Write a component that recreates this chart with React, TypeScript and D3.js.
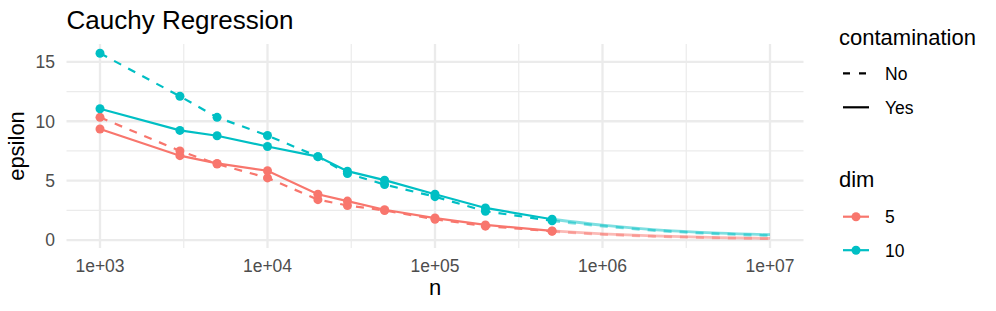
import React from "react";
import * as d3 from "d3";

// ---- data ----
const nValues = [1e3, 3e3, 5e3, 1e4, 2e4, 3e4, 5e4, 1e5, 2e5, 5e5];
const dim5No = [10.33, 7.5, 6.4, 5.23, 3.4, 2.91, 2.49, 1.75, 1.17, 0.74];
const dim5Yes = [9.35, 7.1, 6.45, 5.83, 3.85, 3.28, 2.55, 1.85, 1.27, 0.77];
const dim10No = [15.72, 12.1, 10.33, 8.8, 7.02, 5.6, 4.67, 3.65, 2.42, 1.62];
const dim10Yes = [11.05, 9.23, 8.78, 7.87, 7.02, 5.8, 5.04, 3.85, 2.7, 1.75];

const extN = [5e5, 1e6, 2e6, 5e6, 1e7];
const ext5No = [0.74, 0.48, 0.32, 0.18, 0.11];
const ext5Yes = [0.77, 0.52, 0.35, 0.21, 0.14];
const ext10No = [1.62, 1.18, 0.82, 0.52, 0.38];
const ext10Yes = [1.75, 1.25, 0.88, 0.58, 0.45];

const xTicks = [1e3, 1e4, 1e5, 1e6, 1e7];
const xTickLabels = ["1e+03", "1e+04", "1e+05", "1e+06", "1e+07"];
const yTicks = [0, 5, 10, 15];
const yMinor = [2.5, 7.5, 12.5];
const dims = ["5", "10"];
const contamLevels = ["No", "Yes"];

const COLORS: Record<string, string> = { "5": "#F8766D", "10": "#00BFC4" };
const FONT = "'Liberation Sans', Arial, Helvetica, sans-serif";

const series = [
  { dim: "5", contam: "No", y: dim5No, ext: ext5No },
  { dim: "5", contam: "Yes", y: dim5Yes, ext: ext5Yes },
  { dim: "10", contam: "No", y: dim10No, ext: ext10No },
  { dim: "10", contam: "Yes", y: dim10Yes, ext: ext10Yes },
];

export default function App() {
  const W = 996, H = 311;
  const pl = 66.5, pr = 803.5, pt = 44, pb = 248;

  const x = d3.scaleLog().domain([10 ** 2.8, 10 ** 7.2]).range([pl, pr]);
  const allY = series.flatMap((s) => [...s.y, ...s.ext]);
  const ymin = d3.min(allY)!, ymax = d3.max(allY)!;
  const pad = (ymax - ymin) * 0.05;
  const y = d3.scaleLinear().domain([ymin - pad, ymax + pad]).range([pb, pt]);

  const xMinor = [3.5, 4.5, 5.5, 6.5].map((e) => 10 ** e);

  const line = d3
    .line<[number, number]>()
    .x((d) => x(d[0]))
    .y((d) => y(d[1]));
  const curve = d3
    .line<[number, number]>()
    .x((d) => x(d[0]))
    .y((d) => y(d[1]))
    .curve(d3.curveMonotoneX);

  const DASH = "8,8";
  const LW = 2.2;
  const R = 4.5;

  return (
    <svg
      width={W}
      height={H}
      style={{ position: "absolute", left: 0, top: 0, background: "#fff" }}
      fontFamily={FONT}
    >
      {/* grid */}
      {yMinor.map((v) => (
        <line key={"ym" + v} x1={pl} x2={pr} y1={y(v)} y2={y(v)} stroke="#EBEBEB" strokeWidth={1.2} />
      ))}
      {xMinor.map((v) => (
        <line key={"xm" + v} x1={x(v)} x2={x(v)} y1={pt} y2={pb} stroke="#EBEBEB" strokeWidth={1.2} />
      ))}
      {yTicks.map((v) => (
        <line key={"yM" + v} x1={pl} x2={pr} y1={y(v)} y2={y(v)} stroke="#EBEBEB" strokeWidth={2.3} />
      ))}
      {xTicks.map((v) => (
        <line key={"xM" + v} x1={x(v)} x2={x(v)} y1={pt} y2={pb} stroke="#EBEBEB" strokeWidth={2.3} />
      ))}

      {/* extension (faded) curves */}
      {series.map((s) => (
        <path
          key={"ext" + s.dim + s.contam}
          d={curve(extN.map((n, i) => [n, s.ext[i]] as [number, number])) || ""}
          fill="none"
          stroke={COLORS[s.dim]}
          strokeOpacity={0.5}
          strokeWidth={LW + 0.6}
          strokeDasharray={s.contam === "No" ? DASH : undefined}
        />
      ))}

      {/* main lines */}
      {series.map((s) => (
        <path
          key={"ln" + s.dim + s.contam}
          d={line(nValues.map((n, i) => [n, s.y[i]] as [number, number])) || ""}
          fill="none"
          stroke={COLORS[s.dim]}
          strokeWidth={LW}
          strokeDasharray={s.contam === "No" ? DASH : undefined}
        />
      ))}

      {/* points */}
      {series.map((s) =>
        nValues.map((n, i) => (
          <circle key={"pt" + s.dim + s.contam + i} cx={x(n)} cy={y(s.y[i])} r={R} fill={COLORS[s.dim]} />
        ))
      )}

      {/* y tick labels */}
      {yTicks.map((v) => (
        <text key={"yl" + v} x={55} y={y(v)} dy="0.36em" textAnchor="end" fontSize={17.5} fill="#4D4D4D">
          {v}
        </text>
      ))}
      {/* x tick labels */}
      {xTicks.map((v, i) => (
        <text key={"xl" + v} x={x(v)} y={271.5} textAnchor="middle" fontSize={17.5} fill="#4D4D4D">
          {xTickLabels[i]}
        </text>
      ))}

      {/* axis titles */}
      <text x={(pl + pr) / 2} y={295} textAnchor="middle" fontSize={22} fill="#000">
        n
      </text>
      <text
        transform={`translate(24,${(pt + pb) / 2}) rotate(-90)`}
        textAnchor="middle"
        fontSize={22}
        fill="#000"
      >
        epsilon
      </text>

      {/* title */}
      <text x={pl} y={29} fontSize={26} fill="#000">
        Cauchy Regression
      </text>

      {/* legend: contamination */}
      <text x={839} y={45} fontSize={22} fill="#000">
        contamination
      </text>
      {contamLevels.map((c, i) => {
        const cy = 73.3 + i * 34;
        return (
          <g key={"lc" + c}>
            <line
              x1={843}
              x2={869}
              y1={cy}
              y2={cy}
              stroke="#000"
              strokeWidth={LW}
              strokeDasharray={c === "No" ? "7,9" : undefined}
            />
            <text x={885} y={cy} dy="0.36em" fontSize={17.5} fill="#000">
              {c}
            </text>
          </g>
        );
      })}

      {/* legend: dim */}
      <text x={839} y={186.5} fontSize={22} fill="#000">
        dim
      </text>
      {dims.map((d, i) => {
        const cy = 216.7 + i * 33.5;
        return (
          <g key={"ld" + d}>
            <line x1={843} x2={869} y1={cy} y2={cy} stroke={COLORS[d]} strokeWidth={LW} />
            <circle cx={856} cy={cy} r={R} fill={COLORS[d]} />
            <text x={885} y={cy} dy="0.36em" fontSize={17.5} fill="#000">
              {d}
            </text>
          </g>
        );
      })}
    </svg>
  );
}
